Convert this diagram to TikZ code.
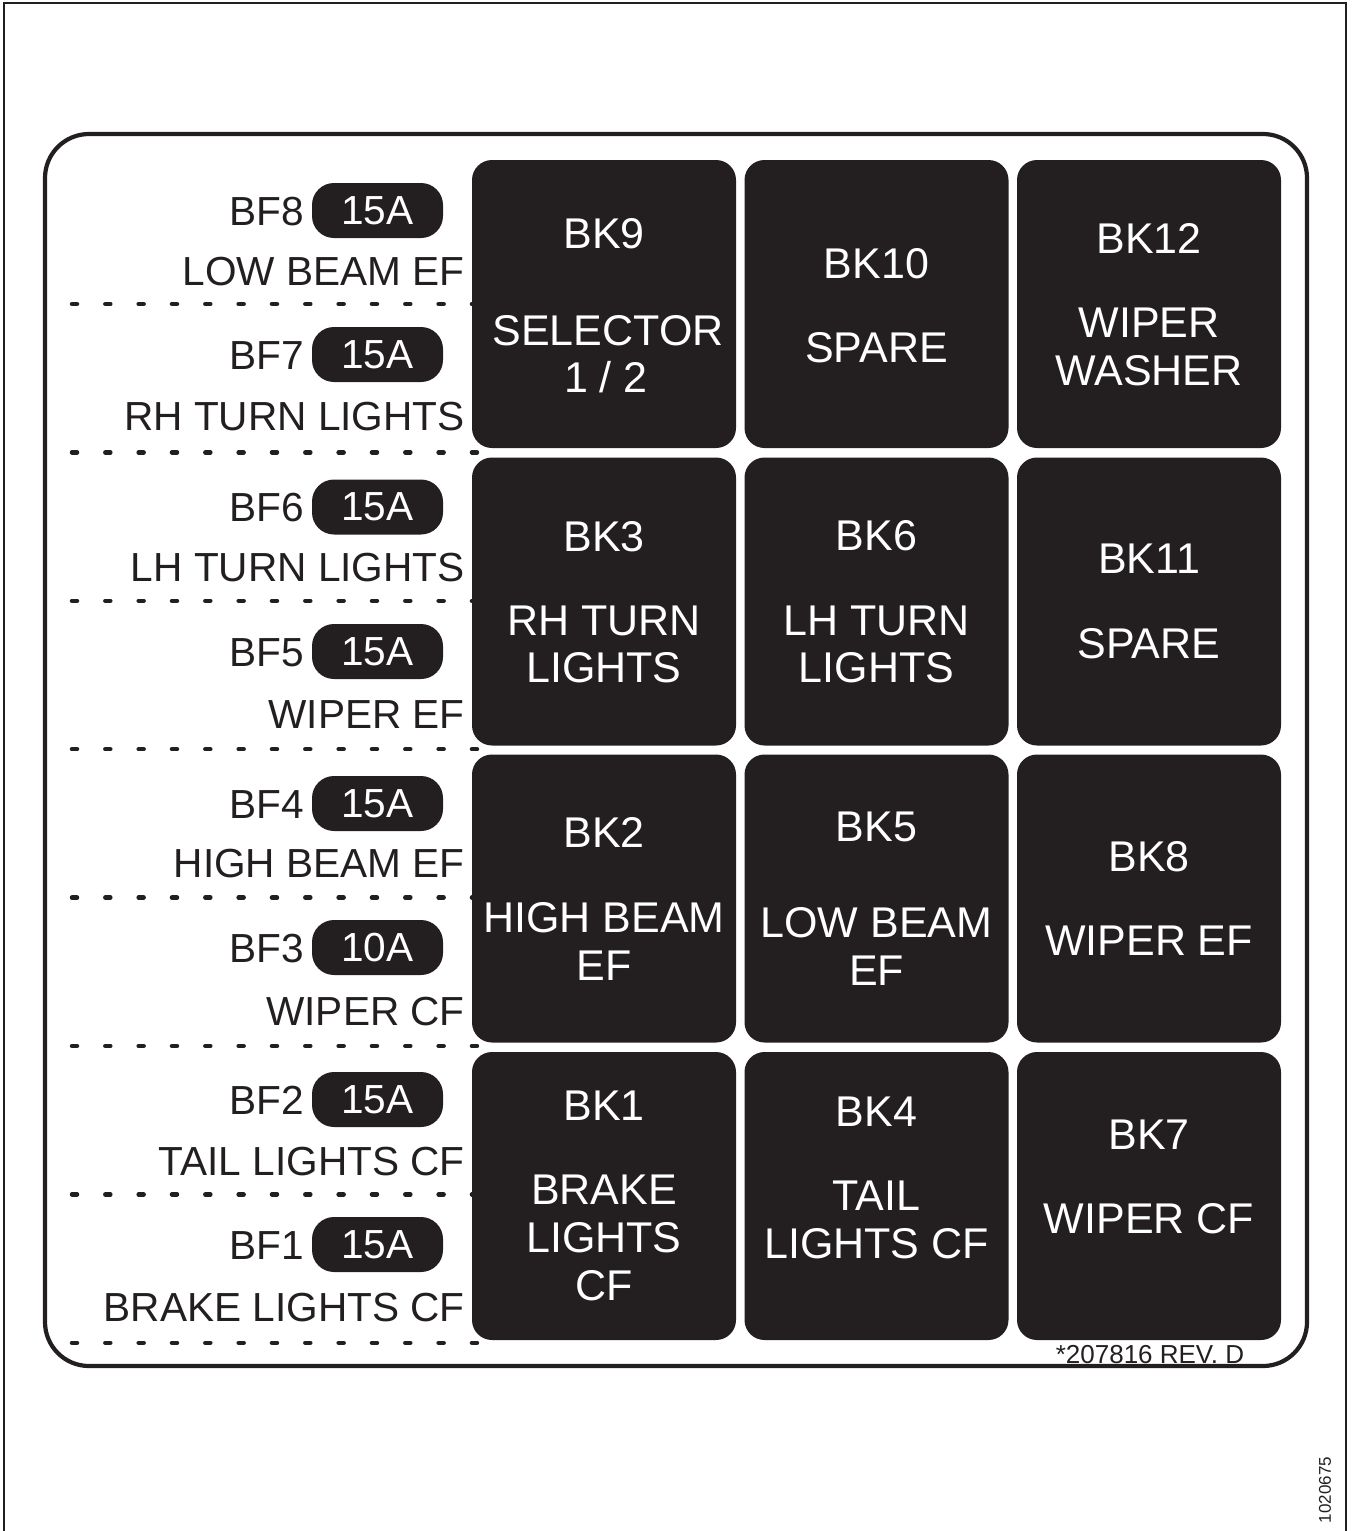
\documentclass[tikz,border=0pt]{standalone}
\usepackage{fontspec}
\setmainfont{Liberation Sans}
\definecolor{ink}{HTML}{231F20}
\newcommand\lfont{\fontsize{40.6}{47}\selectfont}
\newcommand\bfont{\fontsize{43}{48}\selectfont}
\tikzset{
  relay/.style={fill=ink, rounded corners=20pt, minimum width=264pt, minimum height=288pt, inner sep=0pt},
  pill/.style={fill=ink, text=white, rounded corners=22pt, minimum width=131pt, minimum height=55pt, inner sep=0pt, font=\lfont},
  wt/.style={text=white, anchor=base, inner sep=0pt, font=\bfont},
  fuse/.style={text=ink, anchor=base east, inner sep=0pt, font=\lfont},
  sepline/.style={draw=ink, line width=4.5pt, line cap=round, dash pattern=on 5pt off 28.33pt},
}
\begin{document}
\begin{tikzpicture}[x=1pt,y=-1pt]
\useasboundingbox (0,0) rectangle (1354,1531);
% outer thin border
\draw[ink, line width=1.6pt] (4,1531) -- (4,3) -- (1346,3) -- (1346,1531);
% rounded frame
\draw[ink, line width=4.2pt, rounded corners=44pt] (45,134) rectangle (1307,1366);
% dotted separators
\foreach \y in {304,452.4,600.8,749.2,897.6,1046,1194.4,1342.8}
  \draw[sepline] (72,\y) -- (481,\y);
% relay boxes
\node[relay] (bk9)  at (604,304) {};
\node[relay] (bk10) at (876.5,304) {};
\node[relay] (bk12) at (1149,304) {};
\node[relay] (bk3)  at (604,601.5) {};
\node[relay] (bk6)  at (876.5,601.5) {};
\node[relay] (bk11) at (1149,601.5) {};
\node[relay] (bk2)  at (604,898.5) {};
\node[relay] (bk5)  at (876.5,898.5) {};
\node[relay] (bk8)  at (1149,898.5) {};
\node[relay] (bk1)  at (604,1196) {};
\node[relay] (bk4)  at (876.5,1196) {};
\node[relay] (bk7)  at (1149,1196) {};
% relay texts
\node[wt] (t9a) at (604,248) {BK9};
\node[wt] (t9b) at (608,345) {SELECTOR};
\node[wt] (t9c) at (606,392) {1 / 2};
\node[wt] (t10a) at (876.5,278) {BK10};
\node[wt] (t10b) at (876.5,362) {SPARE};
\node[wt] (t12a) at (1149,253) {BK12};
\node[wt] (t12b) at (1149,337) {WIPER};
\node[wt] (t12c) at (1149,385) {WASHER};
\node[wt] (t3a) at (604,551) {BK3};
\node[wt] (t3b) at (604,635) {RH TURN};
\node[wt] (t3c) at (604,682) {LIGHTS};
\node[wt] (t6a) at (876.5,550) {BK6};
\node[wt] (t6b) at (876.5,635) {LH TURN};
\node[wt] (t6c) at (876.5,682) {LIGHTS};
\node[wt] (t11a) at (1149,573) {BK11};
\node[wt] (t11b) at (1149,658) {SPARE};
\node[wt] (t2a) at (604,847) {BK2};
\node[wt] (t2b) at (604,932) {HIGH BEAM};
\node[wt] (t2c) at (604,980) {EF};
\node[wt] (t5a) at (876.5,841) {BK5};
\node[wt] (t5b) at (876.5,937) {LOW BEAM};
\node[wt] (t5c) at (876.5,985) {EF};
\node[wt] (t8a) at (1149,871) {BK8};
\node[wt] (t8b) at (1149,955) {WIPER EF};
\node[wt] (t1a) at (604,1120) {BK1};
\node[wt] (t1b) at (604,1204) {BRAKE};
\node[wt] (t1c) at (604,1252) {LIGHTS};
\node[wt] (t1d) at (604,1300) {CF};
\node[wt] (t4a) at (876.5,1126) {BK4};
\node[wt] (t4b) at (876.5,1210) {TAIL};
\node[wt] (t4c) at (876.5,1258) {LIGHTS CF};
\node[wt] (t7a) at (1149,1149) {BK7};
\node[wt] (t7b) at (1149,1233) {WIPER CF};
% fuses
\node[pill] (p8) at (377.5,210.5) {15A};
\node[fuse] (f8) at (304,225.2) {BF8};
\node[fuse] (l8) at (465,285) {LOW BEAM EF};
\node[pill] (p7) at (377.5,354.5) {15A};
\node[fuse] (f7) at (304,369.2) {BF7};
\node[fuse] (l7) at (465,430) {RH TURN LIGHTS};
\node[pill] (p6) at (377.5,507) {15A};
\node[fuse] (f6) at (304,521.7) {BF6};
\node[fuse] (l6) at (465,581) {LH TURN LIGHTS};
\node[pill] (p5) at (377.5,651.5) {15A};
\node[fuse] (f5) at (304,666.2) {BF5};
\node[fuse] (l5) at (465,728) {WIPER EF};
\node[pill] (p4) at (377.5,803.5) {15A};
\node[fuse] (f4) at (304,818.2) {BF4};
\node[fuse] (l4) at (465,877) {HIGH BEAM EF};
\node[pill] (p3) at (377.5,947.5) {10A};
\node[fuse] (f3) at (304,962.2) {BF3};
\node[fuse] (l3) at (465,1025) {WIPER CF};
\node[pill] (p2) at (377.5,1099.5) {15A};
\node[fuse] (f2) at (304,1114.2) {BF2};
\node[fuse] (l2) at (465,1175) {TAIL LIGHTS CF};
\node[pill] (p1) at (377.5,1244.5) {15A};
\node[fuse] (f1) at (304,1259.2) {BF1};
\node[fuse] (l1) at (465,1321) {BRAKE LIGHTS CF};
% part numbers
\node[text=ink, anchor=base, inner sep=0pt, font=\fontsize{26}{30}\selectfont] (rev) at (1150,1363) {*207816 REV. D};
\node[text=ink, rotate=90, inner sep=0pt, font=\fontsize{17}{20}\selectfont] (code) at (1325,1490) {1020675};
\end{tikzpicture}
\end{document}
